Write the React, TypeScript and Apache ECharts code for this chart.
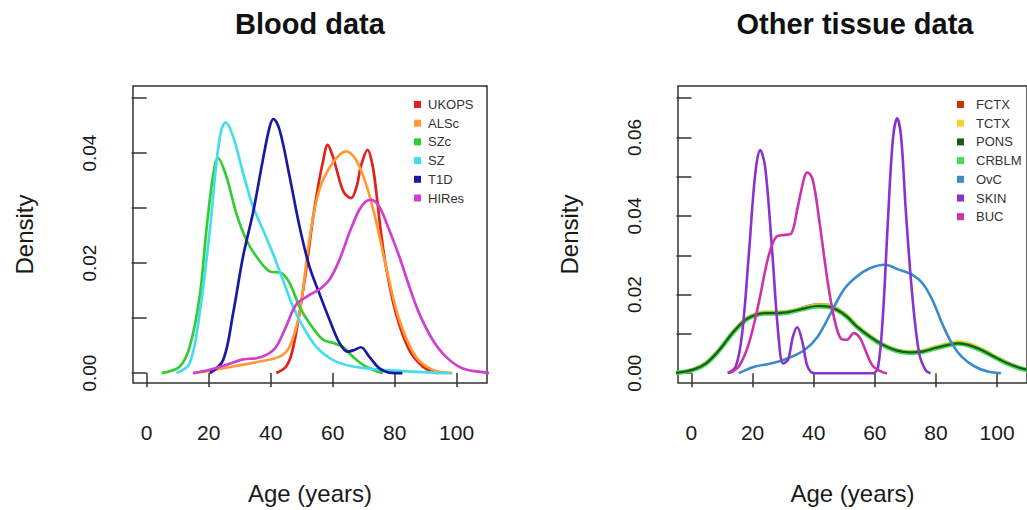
import React, { useEffect, useRef } from "react";
import * as echarts from "echarts";

// ---------- Blood data (age, density) ----------
const ukops = [[41.8,0],[45,0.0012],[47,0.004],[49.3,0.0109],[51.5,0.019],[53.6,0.0279],[55.5,0.0345],[56.8,0.0382],[58.4,0.0415],[60,0.0395],[61,0.0376],[63.5,0.033],[65.9,0.0318],[67.8,0.034],[69.1,0.0376],[71.3,0.0406],[72.8,0.038],[74,0.0333],[75.5,0.026],[77.2,0.0194],[80.4,0.0109],[84.7,0.0042],[89,0.0012],[92.2,0.0003],[94.3,0]];
const alsc = [[15,0],[20,0.0004],[27.9,0.0012],[36.4,0.0021],[42.9,0.003],[46.1,0.0048],[49.3,0.0109],[52.5,0.0242],[55.7,0.0333],[60,0.0382],[64.3,0.0403],[67.5,0.0388],[70.7,0.0345],[73.9,0.0279],[77.2,0.0194],[81.5,0.0097],[86.8,0.003],[92.2,0.0006],[98.6,0]];
const szc = [[4.8,0],[10.7,0.0012],[13.9,0.0048],[17.1,0.0139],[19.3,0.0261],[21.4,0.0358],[23,0.0391],[25.7,0.0358],[28.9,0.0291],[32.2,0.0242],[35.4,0.0212],[39.7,0.0185],[43.4,0.0182],[46.1,0.0164],[49.3,0.0121],[52.5,0.0091],[56.8,0.0061],[60,0.0055],[63.2,0.0048],[66.5,0.003],[70.7,0.0012],[76.1,0]];
const sz = [[9.6,0],[13.9,0.0018],[17.1,0.0109],[20.4,0.0261],[22.5,0.0382],[24.1,0.0442],[25.5,0.0456],[27.9,0.043],[31.1,0.0364],[34.3,0.0303],[37.5,0.0261],[40.7,0.0218],[43.9,0.017],[47.2,0.0121],[50.4,0.0085],[54.7,0.0048],[60,0.0024],[66.5,0.0012],[76.1,0.0006],[92.2,0.0001],[98,0]];
const t1d = [[20.4,0],[24.7,0.0024],[27.9,0.0109],[31.1,0.0212],[34.3,0.0291],[37.5,0.0388],[39.7,0.0448],[40.9,0.0462],[42.9,0.0442],[46.1,0.0358],[49.3,0.0267],[52.5,0.0194],[55.7,0.0145],[59,0.0097],[62.2,0.0055],[64.8,0.0039],[67,0.0042],[69.1,0.0047],[71.8,0.003],[75,0.0009],[78.2,0.0001],[82.5,0]];
const hires = [[15,0],[20.4,0.0006],[25.7,0.0015],[31.1,0.0025],[35.4,0.0027],[38.6,0.0033],[41.8,0.0048],[45,0.0085],[48.2,0.0124],[52.5,0.0142],[55.7,0.0152],[59,0.017],[62.2,0.0206],[65.4,0.0255],[68.6,0.0297],[70.7,0.0312],[72.3,0.0315],[75,0.0303],[78.2,0.0261],[81.5,0.0212],[84.7,0.0158],[87.9,0.0109],[92.2,0.0061],[96.5,0.003],[101.8,0.0009],[109.3,0.0001],[112,0]];

// ---------- Other tissue data (age, density) ----------
const fctx = [[-5,0.0001],[0.5,0.0009],[4.8,0.0026],[9.1,0.006],[13.4,0.0103],[17.7,0.0137],[20.9,0.0149],[24.1,0.0153],[28.4,0.0154],[32.7,0.0158],[37,0.0167],[41.3,0.0174],[44.5,0.0173],[47.7,0.0163],[50.9,0.0145],[54.1,0.012],[58.4,0.0094],[62.7,0.0072],[67,0.0058],[71.3,0.0053],[75.6,0.0056],[79.8,0.0065],[84.1,0.0073],[87.4,0.0077],[90.6,0.0073],[94.9,0.006],[99.1,0.0043],[103.4,0.0026],[107.7,0.0013],[112,0.0005]];
const tctx = [[-5,0.0001],[0.5,0.0009],[4.8,0.0025],[9.1,0.0059],[13.4,0.0102],[17.7,0.0137],[20.9,0.015],[24.1,0.0155],[28.4,0.0155],[32.7,0.0158],[37,0.0166],[41.3,0.0173],[44.5,0.0172],[47.7,0.0163],[50.9,0.0146],[54.1,0.0121],[58.4,0.0095],[62.7,0.0073],[67,0.0059],[71.3,0.0054],[75.6,0.0057],[79.8,0.0066],[84.1,0.0075],[87.4,0.0079],[90.6,0.0075],[94.9,0.0061],[99.1,0.0043],[103.4,0.0026],[107.7,0.0013],[112,0.0005]];
const pons = [[-5,0.0001],[0.5,0.0009],[4.8,0.0025],[9.1,0.0059],[13.4,0.0102],[17.7,0.0136],[20.9,0.0148],[24.1,0.0153],[28.4,0.0153],[32.7,0.0157],[37,0.0165],[41.3,0.0171],[44.5,0.017],[47.7,0.0161],[50.9,0.0144],[54.1,0.0119],[58.4,0.0093],[62.7,0.0072],[67,0.0058],[71.3,0.0053],[75.6,0.0055],[79.8,0.0064],[84.1,0.0072],[87.4,0.0076],[90.6,0.0072],[94.9,0.0059],[99.1,0.0042],[103.4,0.0025],[107.7,0.0013],[112,0.0005]];
const crblm = [[-5,0.0001],[0.5,0.0008],[4.8,0.0024],[9.1,0.0058],[13.4,0.0101],[17.7,0.0135],[20.9,0.0147],[24.1,0.0152],[28.4,0.0152],[32.7,0.0156],[37,0.0164],[41.3,0.017],[44.5,0.0169],[47.7,0.016],[50.9,0.0143],[54.1,0.0118],[58.4,0.0092],[62.7,0.0071],[67,0.0057],[71.3,0.0052],[75.6,0.0054],[79.8,0.0063],[84.1,0.0071],[87.4,0.0075],[90.6,0.0071],[94.9,0.0058],[99.1,0.0041],[103.4,0.0024],[107.7,0.0012],[112,0.0005]];
const ovc = [[15.5,0],[20.9,0.0017],[26.3,0.0025],[31.6,0.0038],[37,0.0059],[41.3,0.0093],[45.6,0.0153],[49.8,0.0212],[54.1,0.0246],[58.4,0.0267],[63.2,0.0276],[68.1,0.0263],[72.3,0.025],[75.6,0.0229],[78.8,0.0187],[82,0.0127],[85.2,0.0076],[88.4,0.0042],[92.7,0.0017],[97,0.0004],[101.3,0]];
const skin = [[11.8,0],[14.5,0.0017],[16.6,0.0102],[18.8,0.0305],[20.9,0.0509],[22.5,0.0568],[24.1,0.0526],[26.3,0.0322],[28.4,0.0102],[30,0.0025],[31.6,0.0034],[33.2,0.0093],[34.6,0.0117],[36.4,0.0076],[38,0.0017],[40.2,0],[45,0],[50,0],[55,0],[59.5,0],[61.1,0.0017],[62.7,0.0153],[64.3,0.039],[65.9,0.0594],[67.3,0.0649],[68.6,0.0602],[70.2,0.0407],[72.3,0.0195],[74.5,0.0051],[76.6,0.0008],[78.2,0]];
const buc = [[12.3,0],[15.5,0.0017],[18.8,0.0076],[22,0.0178],[25.2,0.0297],[27.9,0.0348],[30.5,0.0352],[32.7,0.0356],[34.8,0.0424],[37,0.05],[38,0.0511],[39.7,0.0492],[41.8,0.039],[44.5,0.0237],[46.6,0.0144],[48.8,0.0089],[50.9,0.0085],[53.1,0.0102],[55.2,0.0089],[57.3,0.0051],[59.5,0.0017],[62.7,0.0002],[64,0]];

const bloodNames = ["UKOPS", "ALSc", "SZc", "SZ", "T1D", "HIRes"];
const bloodData = [ukops, alsc, szc, sz, t1d, hires];
const bloodColors = ["#E0221A", "#FF9933", "#33CC33", "#44DDEE", "#1A1AA0", "#D040D0"];

const tissueNames = ["FCTX", "TCTX", "PONS", "CRBLM", "OvC", "SKIN", "BUC"];
const tissueData = [fctx, tctx, pons, crblm, ovc, skin, buc];
const tissueColors = ["#CC3300", "#FFCC33", "#1E5A1E", "#44DD55", "#3A8ACC", "#8833CC", "#CC33AA"];
// drawing order for the overlapping tissue curves (dark PONS on top of the group)
const tissueDrawOrder = [0, 1, 3, 2, 4, 5, 6];
const tissueWidths = [3.5, 4, 2.2, 4.5, 2.6, 2.6, 2.6];

const xTicks = [0, 20, 40, 60, 80, 100];
const bloodYTicks = [0, 0.01, 0.02, 0.03, 0.04, 0.05];
const bloodYLabels = [0, 0.02, 0.04];
const tissueYTicks = [0, 0.01, 0.02, 0.03, 0.04, 0.05, 0.06, 0.07];
const tissueYLabels = [0, 0.02, 0.04, 0.06];

const FONT = "'Liberation Sans', Arial, Helvetica, sans-serif";
const TXT = "#1a1a1a";

export default function App() {
  const ref = useRef<HTMLDivElement>(null);
  useEffect(() => {
    document.body.style.margin = "0";
    const chart = echarts.init(ref.current!, null, { renderer: "svg" });
    const gridW = 354, gridH = 297, top = 86;
    const lefts = [133, 678];
    const mkX = (i: number) => ({
      type: "value", gridIndex: i, min: -4.4, max: 109.8,
      offset: 2,
      axisLine: { show: false },
      splitLine: { show: false },
      axisTick: { show: true, customValues: xTicks, length: 14, lineStyle: { color: "#333", width: 1.5 } },
      axisLabel: { customValues: xTicks, margin: 37, fontSize: 21, color: TXT, fontFamily: FONT },
      name: "Age (years)", nameLocation: "middle", nameGap: 96,
      nameTextStyle: { fontSize: 24, color: TXT, fontFamily: FONT },
    });
    const mkY = (i: number, min: number, max: number, ticks: number[], labels: number[]) => ({
      type: "value", gridIndex: i, min, max,
      axisLine: { show: false },
      splitLine: { show: false },
      axisTick: { show: true, customValues: ticks, length: 15, lineStyle: { color: "#333", width: 1.5 } },
      axisLabel: { customValues: labels, rotate: 90, margin: 34, fontSize: 19, color: TXT, fontFamily: FONT,
        formatter: (v: number) => v.toFixed(2) },
      name: "Density", nameLocation: "middle", nameGap: 97,
      nameTextStyle: { fontSize: 24, color: TXT, fontFamily: FONT },
    });
    const series: any[] = [];
    bloodNames.forEach((n, k) => series.push({
      type: "line", name: n, data: bloodData[k], xAxisIndex: 0, yAxisIndex: 0,
      smooth: 0.35, showSymbol: false, clip: true, color: bloodColors[k],
      lineStyle: { width: 2.7, color: bloodColors[k] },
    }));
    tissueDrawOrder.forEach((k) => series.push({
      type: "line", name: tissueNames[k], data: tissueData[k], xAxisIndex: 1, yAxisIndex: 1,
      smooth: 0.35, showSymbol: false, clip: true, color: tissueColors[k],
      lineStyle: { width: tissueWidths[k], color: tissueColors[k] },
    }));
    const legendBase = {
      orient: "vertical", icon: "rect", itemWidth: 7, itemHeight: 7, itemGap: 5.7,
      textStyle: { fontSize: 13, lineHeight: 13, color: "#333", fontFamily: FONT },
    };
    chart.setOption({
      animation: false,
      backgroundColor: "#fff",
      grid: lefts.map((l) => ({ left: l, top, width: gridW, height: gridH, show: true, borderColor: "#333", borderWidth: 1.5, backgroundColor: "transparent" })),
      xAxis: [mkX(0), mkX(1)],
      yAxis: [
        mkY(0, -0.0018, 0.0522, bloodYTicks, bloodYLabels),
        mkY(1, -0.0025, 0.0731, tissueYTicks, tissueYLabels),
      ],
      legend: [
        { ...legendBase, data: bloodNames, left: 409, top: 93, textStyle: { ...legendBase.textStyle, padding: [0, 0, 0, 2] } },
        { ...legendBase, data: tissueNames, left: 952, top: 93, textStyle: { ...legendBase.textStyle, padding: [0, 0, 0, 7] } },
      ],
      graphic: [
        { type: "text", x: 310, y: 9, style: { text: "Blood data", fill: "#111", font: `bold 29px ${FONT}`, textAlign: "center" } },
        { type: "text", x: 855, y: 9, style: { text: "Other tissue data", fill: "#111", font: `bold 29px ${FONT}`, textAlign: "center" } },
      ],
      series,
    });
    return () => chart.dispose();
  }, []);
  return <div ref={ref} style={{ width: 1027, height: 510 }} />;
}
